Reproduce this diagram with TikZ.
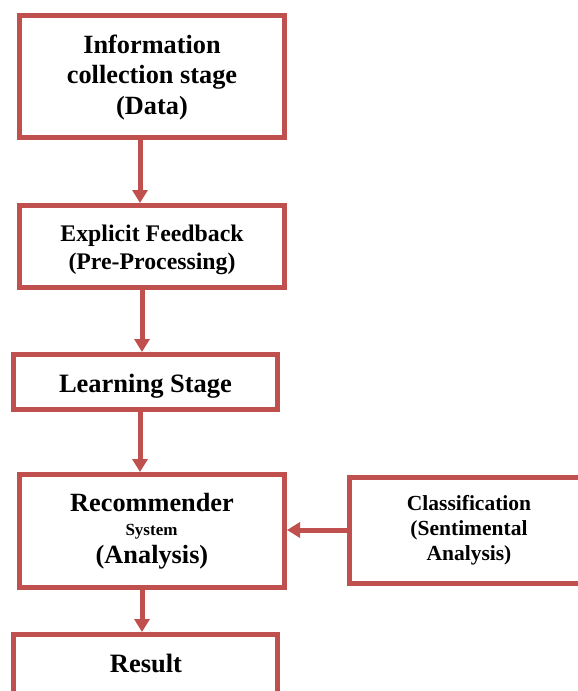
\documentclass[tikz,border=0pt]{standalone}
\usepackage{fontspec}
\setmainfont{Liberation Serif}
\usetikzlibrary{arrows.meta}
\definecolor{boxred}{HTML}{C0504D}
\tikzset{
  stagebox/.style={draw=boxred, line width=5pt, fill=white, inner sep=0pt},
  flowarrow/.style={draw=boxred, line width=5pt,
    -{Triangle[width=15pt,length=13pt]}},
  stagetext/.style={align=center, inner sep=0pt, text=black,
    font=\bfseries\fontsize{26.3}{30.5}\selectfont},
}
\begin{document}
\begin{tikzpicture}[x=1pt,y=-1pt]
  \useasboundingbox (0,0) rectangle (578,691);
  \clip (0,0) rectangle (578,691);

  % stage boxes
  \node[stagebox, minimum width=265pt, minimum height=122pt] (b1) at (152,76.5) {};
  \node[stagebox, minimum width=265pt, minimum height=82pt]  (b2) at (152,246.5) {};
  \node[stagebox, minimum width=264pt, minimum height=55pt]  (b3) at (145.5,382) {};
  \node[stagebox, minimum width=265pt, minimum height=113pt] (b4) at (152,531) {};
  \node[stagebox, minimum width=264pt, minimum height=80pt]  (b5) at (145.5,674.5) {};
  \node[stagebox, minimum width=240pt, minimum height=106pt] (b6) at (469.5,530.5) {};

  % box labels
  \node[stagetext] (t1) at (152,77.3) {Information\\collection stage\\(Data)};
  \node[stagetext, font=\bfseries\fontsize{23.8}{28}\selectfont] (t2) at (152,249.5)
    {Explicit Feedback\\(Pre-Processing)};
  \node[stagetext, font=\bfseries\fontsize{26.5}{30}\selectfont, anchor=base] (t3) at (145.5,392.5)
    {Learning Stage};
  \node[stagetext, anchor=base] (t4a) at (152,511) {Recommender};
  \node[stagetext, font=\bfseries\fontsize{17}{20}\selectfont, anchor=base] (t4b) at (151.5,535) {System};
  \node[stagetext, anchor=base] (t4c) at (152,563) {(Analysis)};
  \node[stagetext, font=\bfseries\fontsize{26.5}{30}\selectfont, anchor=base] (t5) at (146,672) {Result};
  \node[stagetext, font=\bfseries\fontsize{21.5}{25}\selectfont] (t6) at (469,530)
    {Classification\\(Sentimental\\Analysis)};

  % connectors
  \draw[flowarrow] (b1.south -| 140,0) -- (b2.north -| 140,0);
  \draw[flowarrow] (b2.south -| 142,0) -- (b3.north -| 142,0);
  \draw[flowarrow] (b3.south -| 140,0) -- (b4.north -| 140,0);
  \draw[flowarrow] (b4.south -| 142,0) -- (b5.north -| 142,0);
  \draw[flowarrow] (b6.west |- 0,530) -- (b4.east |- 0,530);
\end{tikzpicture}
\end{document}
